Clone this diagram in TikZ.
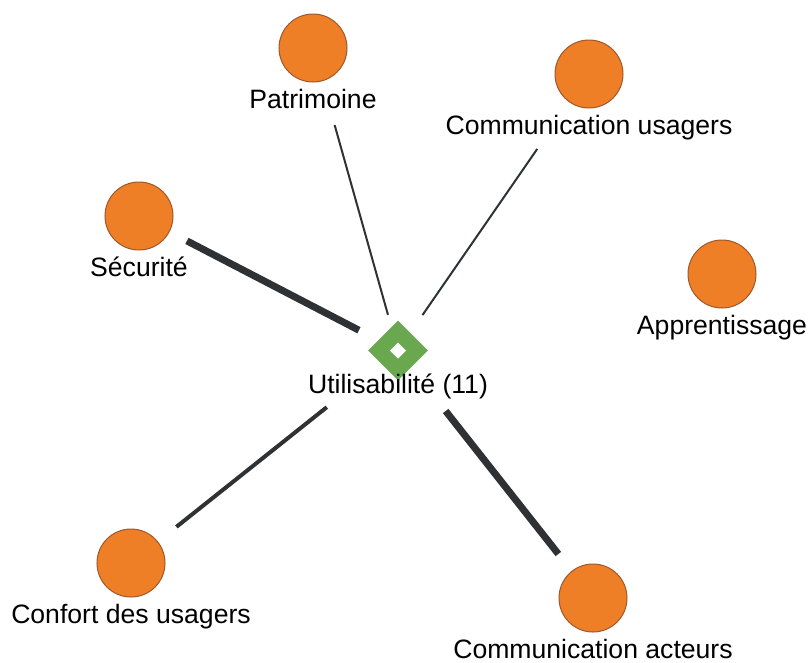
\documentclass[tikz,border=0pt]{standalone}
\usepackage{fontspec}
\setmainfont{Liberation Sans}
\usetikzlibrary{shapes.geometric}
\definecolor{corange}{HTML}{EE7F27}
\definecolor{cbrown}{HTML}{A0572A}
\definecolor{cgreen}{HTML}{6AA84F}
\definecolor{cline}{HTML}{2F3235}
\tikzset{
  every picture/.style={font=\fontsize{22.7}{27}\selectfont},
  topic/.style={circle, draw=cbrown, fill=corange, line width=0.03cm, minimum size=2.04cm, inner sep=0pt,
    label={[anchor=base, label distance=0.79cm, inner sep=0pt]below:#1}},
  hub/.style={diamond, fill=cgreen, aspect=1, minimum width=1.8cm, minimum height=1.8cm, inner sep=0pt,
    path picture={\fill[white] ([xshift=-0.24cm]path picture bounding box.center) -- ++(0.24cm,0.24cm)
      -- ++(0.24cm,-0.24cm) -- ++(-0.24cm,-0.24cm) -- cycle;},
    label={[anchor=base, label distance=0.39cm, inner sep=0pt]below:#1}},
  link/.style={draw=cline, line width=#1},
}

\begin{document}
\begin{tikzpicture}[x=0.03cm, y=-0.03cm]
  \useasboundingbox (0,0) rectangle (810,662);
  \node[hub={Utilisabilité (11)}] (util) at (398,350.5) {};
  \node[topic=Patrimoine] (patri) at (313,48) {};
  \node[topic={Communication usagers}] (comus) at (589,74) {};
  \node[topic=Sécurité] (secu) at (139,216) {};
  \node[topic=Apprentissage] (appr) at (722,274) {};
  \node[topic={Confort des usagers}] (confort) at (131,563) {};
  \node[topic={Communication acteurs}] (comac) at (593,598) {};
  % links to the hub, cut short of the labels
  \foreach \src/\lw/\sa/\sb in {secu/0.21/1.62/1.32, patri/0.06/2.4/1.11, comus/0.06/2.73/1.29,
      confort/0.12/1.74/2.73, comac/0.21/1.68/2.31}
    \draw[link=\lw cm, shorten <=\sa cm, shorten >=\sb cm] (\src.center) -- (util.center);
\end{tikzpicture}
\end{document}
